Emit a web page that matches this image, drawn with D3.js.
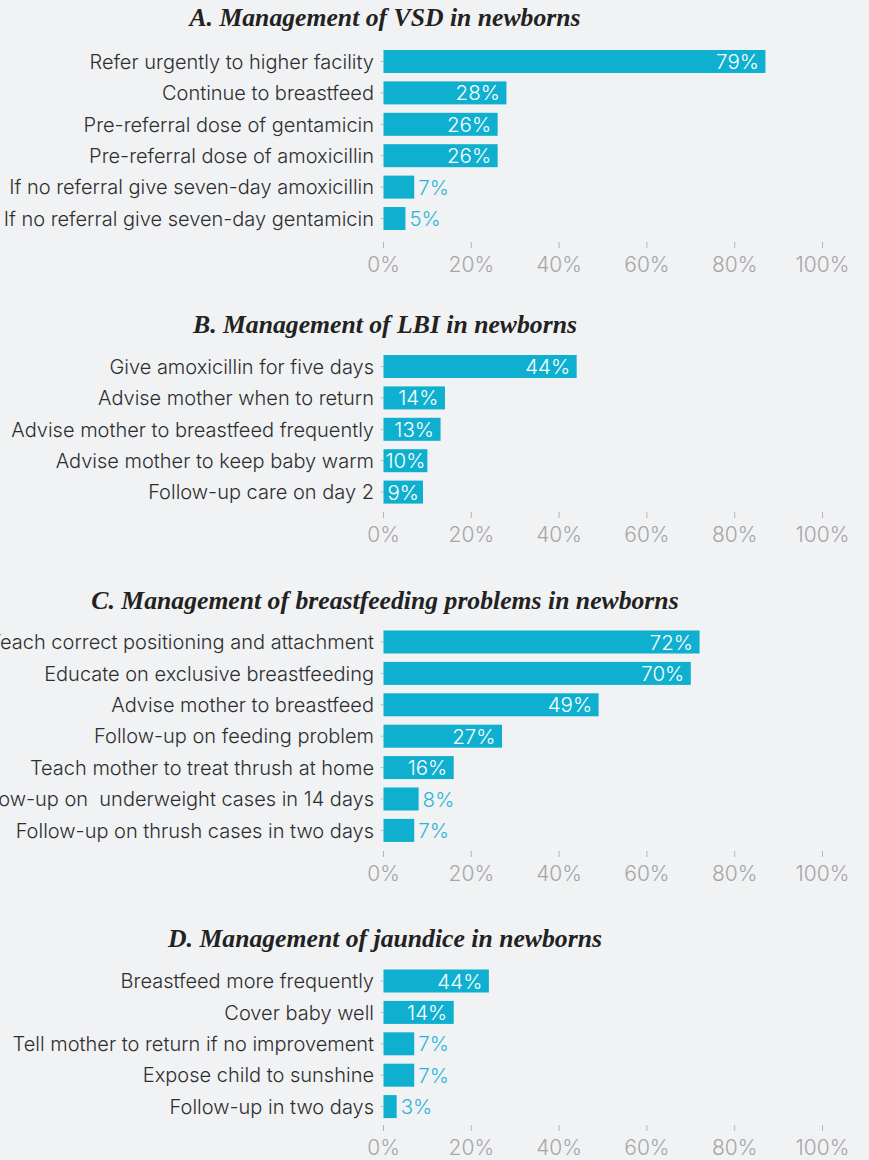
<!DOCTYPE html>
<html>
<head>
<meta charset="utf-8">
<script src="https://cdn.jsdelivr.net/npm/d3@7/dist/d3.min.js"></script>
<style>
  html, body { margin: 0; padding: 0; background: #f1f2f4; }
  svg { display: block; }
  text { white-space: pre; }
</style>
</head>
<body>
<svg id="chart" width="869" height="1160"></svg>
<script>
// ---- Data ----
const titles = [
  "A. Management of VSD in newborns",
  "B. Management of LBI in newborns",
  "C. Management of breastfeeding problems in newborns",
  "D. Management of jaundice in newborns"
];
const categoriesA = [
  "Refer urgently to higher facility",
  "Continue to breastfeed",
  "Pre-referral dose of gentamicin",
  "Pre-referral dose of amoxicillin",
  "If no referral give seven-day amoxicillin",
  "If no referral give seven-day gentamicin"
];
const valuesA = [87, 28, 26, 26, 7, 5];          // bar lengths as drawn
const labelsA = ["79%", "28%", "26%", "26%", "7%", "5%"]; // printed labels

const categoriesB = [
  "Give amoxicillin for five days",
  "Advise mother when to return",
  "Advise mother to breastfeed frequently",
  "Advise mother to keep baby warm",
  "Follow-up care on day 2"
];
const valuesB = [44, 14, 13, 10, 9];
const labelsB = ["44%", "14%", "13%", "10%", "9%"];

const categoriesC = [
  "Teach correct positioning and attachment",
  "Educate on exclusive breastfeeding",
  "Advise mother to breastfeed",
  "Follow-up on feeding problem",
  "Teach mother to treat thrush at home",
  "Follow-up on  underweight cases in 14 days",
  "Follow-up on thrush cases in two days"
];
const valuesC = [72, 70, 49, 27, 16, 8, 7];
const labelsC = ["72%", "70%", "49%", "27%", "16%", "8%", "7%"];

const categoriesD = [
  "Breastfeed more frequently",
  "Cover baby well",
  "Tell mother to return if no improvement",
  "Expose child to sunshine",
  "Follow-up in two days"
];
const valuesD = [24, 16, 7, 7, 3];
const labelsD = ["44%", "14%", "7%", "7%", "3%"];

const tickValues = [0, 20, 40, 60, 80, 100];

// ---- Layout ----
const panels = [
  { title: titles[0], cats: categoriesA, vals: valuesA, labs: labelsA, titleY: 26, firstY: 61.5, axisY: 242 },
  { title: titles[1], cats: categoriesB, vals: valuesB, labs: labelsB, titleY: 333, firstY: 366.5, axisY: 512 },
  { title: titles[2], cats: categoriesC, vals: valuesC, labs: labelsC, titleY: 609, firstY: 642, axisY: 851 },
  { title: titles[3], cats: categoriesD, vals: valuesD, labs: labelsD, titleY: 947, firstY: 981, axisY: 1125 }
];

const barColor = "#0eafcf";
const outColor = "#2bb5d7";
const step = 31.4;
const barH = 23;
const sansFont = "Inter, 'Noto Sans', sans-serif";

const svg = d3.select("#chart");
const x = d3.scaleLinear().domain([0, 100]).range([383.5, 822.5]);

panels.forEach(p => {
  const g = svg.append("g");
  const n = p.cats.length;
  const y = d3.scaleBand()
    .domain(p.cats)
    .range([p.firstY - step / 2, p.firstY - step / 2 + n * step])
    .paddingInner((step - barH) / step)
    .paddingOuter((step - barH) / step / 2);

  // title
  g.append("text")
    .attr("x", 385)
    .attr("y", p.titleY)
    .attr("text-anchor", "middle")
    .style("font-family", "'Liberation Serif', 'Times New Roman', serif")
    .style("font-weight", "bold")
    .style("font-style", "italic")
    .style("font-size", "25.7px")
    .style("fill", "#222")
    .text(p.title);

  // small y ticks
  g.selectAll("line.yt").data(p.cats).enter().append("line")
    .attr("x1", 380.5).attr("x2", 383.5)
    .attr("y1", d => y(d) + y.bandwidth() / 2)
    .attr("y2", d => y(d) + y.bandwidth() / 2)
    .attr("stroke", "#bbb").attr("stroke-width", 1);

  // category labels
  g.selectAll("text.cat").data(p.cats).enter().append("text")
    .attr("x", 374)
    .attr("y", d => y(d) + y.bandwidth() / 2)
    .attr("dy", "0.36em")
    .attr("text-anchor", "end")
    .style("font-family", sansFont)
    .style("font-weight", "300")
    .style("font-size", "20px")
    .style("fill", "#2e2e2e")
    .text(d => d);

  // bars
  const rows = p.cats.map((c, i) => ({ c, v: p.vals[i], l: p.labs[i] }));
  g.selectAll("rect").data(rows).enter().append("rect")
    .attr("x", x(0))
    .attr("y", d => y(d.c))
    .attr("width", d => x(d.v) - x(0))
    .attr("height", y.bandwidth())
    .attr("fill", barColor);

  // value labels
  g.selectAll("text.val").data(rows).enter().append("text")
    .style("font-family", sansFont)
    .style("font-weight", "300")
    .style("font-size", "20.5px")
    .attr("y", d => y(d.c) + y.bandwidth() / 2)
    .attr("dy", "0.37em")
    .text(d => d.l)
    .each(function(d) {
      const t = d3.select(this);
      const w = this.getComputedTextLength();
      const bw = x(d.v) - x(0);
      if (bw >= 38) {
        const pad = Math.max(0.5, Math.min(6.5, (bw - w) / 2));
        t.attr("x", x(d.v) - pad).attr("text-anchor", "end").style("fill", "#fff");
      } else {
        t.attr("x", x(d.v) + 4).attr("text-anchor", "start").style("fill", outColor);
      }
    });

  // x axis
  const ax = g.append("g").attr("transform", `translate(0,${p.axisY})`);
  ax.selectAll("line").data(tickValues).enter().append("line")
    .attr("x1", d => x(d)).attr("x2", d => x(d))
    .attr("y1", 0).attr("y2", 6)
    .attr("stroke", "#b5b5b5").attr("stroke-width", 1);
  ax.selectAll("text").data(tickValues).enter().append("text")
    .attr("x", d => x(d))
    .attr("y", 30)
    .attr("text-anchor", "middle")
    .style("font-family", sansFont)
    .style("font-weight", "300")
    .style("font-size", "21px")
    .style("fill", "#a6a6a6")
    .text(d => d + "%");
});
</script>
</body>
</html>
